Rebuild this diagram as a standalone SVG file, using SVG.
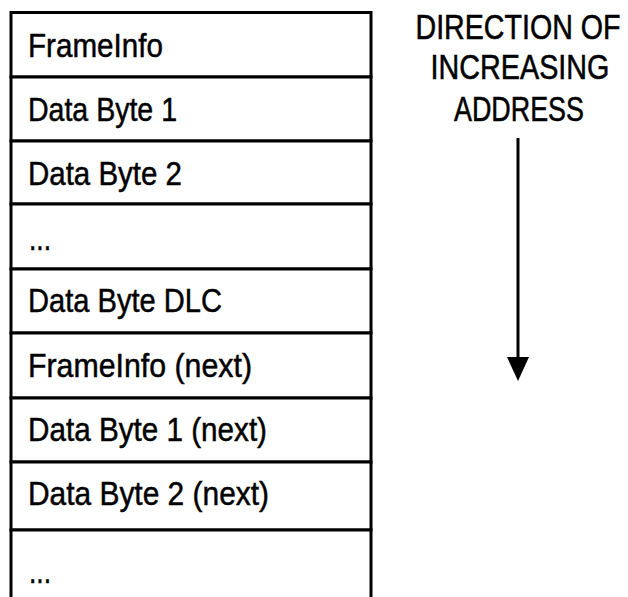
<svg xmlns="http://www.w3.org/2000/svg" width="628" height="597" viewBox="0 0 628 597">
  <defs>
    <style>
      .cell { fill: #ffffff; stroke: #000000; stroke-width: 3; }
      .lbl { font-family: "Liberation Sans", Arial, sans-serif; font-size: 34px; fill: #000000; stroke: #000000; stroke-width: 0.5; }
      .dir { font-family: "Liberation Sans", Arial, sans-serif; font-size: 35px; fill: #000000; stroke: #000000; stroke-width: 0.55; text-anchor: middle; }
      .conn { stroke: #000000; stroke-width: 3; fill: none; }
    </style>
    <marker id="arrowhead" markerUnits="userSpaceOnUse" markerWidth="24" markerHeight="22" refX="1" refY="11" orient="auto" viewBox="0 0 24 22">
      <polygon points="0,0 24,11 0,22" fill="#000000"/>
    </marker>
  </defs>
  <rect x="0" y="0" width="628" height="597" fill="#ffffff"/>

  <g id="row-frameinfo">
    <rect class="cell" x="11" y="12.5" width="360" height="64.5"/>
    <text class="lbl" x="28" y="57" textLength="135" lengthAdjust="spacingAndGlyphs">FrameInfo</text>
  </g>
  <g id="row-databyte1">
    <rect class="cell" x="11" y="77" width="360" height="64"/>
    <text class="lbl" x="28" y="121" textLength="149" lengthAdjust="spacingAndGlyphs">Data Byte 1</text>
  </g>
  <g id="row-databyte2">
    <rect class="cell" x="11" y="141" width="360" height="63"/>
    <text class="lbl" x="28" y="185" textLength="154" lengthAdjust="spacingAndGlyphs">Data Byte 2</text>
  </g>
  <g id="row-ellipsis1">
    <rect class="cell" x="11" y="204" width="360" height="65"/>
    <text class="lbl" x="29" y="250" textLength="22" lengthAdjust="spacingAndGlyphs">...</text>
  </g>
  <g id="row-databytedlc">
    <rect class="cell" x="11" y="269" width="360" height="64"/>
    <text class="lbl" x="28" y="312" textLength="194" lengthAdjust="spacingAndGlyphs">Data Byte DLC</text>
  </g>
  <g id="row-frameinfo-next">
    <rect class="cell" x="11" y="333" width="360" height="65"/>
    <text class="lbl" x="28" y="377" textLength="224" lengthAdjust="spacingAndGlyphs">FrameInfo (next)</text>
  </g>
  <g id="row-databyte1-next">
    <rect class="cell" x="11" y="398" width="360" height="64"/>
    <text class="lbl" x="28" y="441" textLength="239" lengthAdjust="spacingAndGlyphs">Data Byte 1 (next)</text>
  </g>
  <g id="row-databyte2-next">
    <rect class="cell" x="11" y="462" width="360" height="68"/>
    <text class="lbl" x="28" y="505" textLength="241" lengthAdjust="spacingAndGlyphs">Data Byte 2 (next)</text>
  </g>
  <g id="row-ellipsis2">
    <rect class="cell" x="11" y="530" width="360" height="80"/>
    <text class="lbl" x="29" y="583" textLength="22" lengthAdjust="spacingAndGlyphs">...</text>
  </g>

  <g id="direction-label">
    <text class="dir" transform="translate(518,39) scale(0.82,1)" x="0" y="0" textLength="250" lengthAdjust="spacingAndGlyphs">DIRECTION OF</text>
    <text class="dir" transform="translate(520,79) scale(0.82,1)" x="0" y="0" textLength="218" lengthAdjust="spacingAndGlyphs">INCREASING</text>
    <text class="dir" transform="translate(519,121) scale(0.82,1)" x="0" y="0" textLength="158.5" lengthAdjust="spacingAndGlyphs">ADDRESS</text>
  </g>

  <g id="connectors">
    <line class="conn" x1="518" y1="138" x2="518" y2="358" marker-end="url(#arrowhead)"/>
  </g>
</svg>
